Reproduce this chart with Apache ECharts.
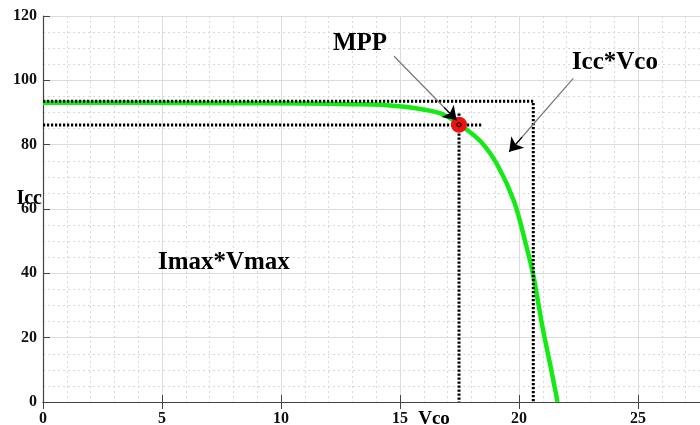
<!DOCTYPE html>
<html>
<head>
<meta charset="UTF-8">
<title>Icc-Vco</title>
<script src="https://cdn.jsdelivr.net/npm/echarts@6/dist/echarts.min.js"></script>
<style>
  html, body { margin: 0; padding: 0; background: #fff; }
  #main { width: 700px; height: 425px; }
</style>
</head>
<body>
<div id="main"></div>
<script type="text/javascript">
// courbe I-V du panneau
var vco = [0, 4, 8, 11, 13, 14.2, 15.6, 16.7, 17.5, 18.4, 19.1, 19.8, 20.3, 20.6, 21.0, 21.3, 21.62];
var icc = [93, 93, 92.9, 92.8, 92.6, 92.4, 91.4, 89.7, 86.3, 80.9, 73.6, 62.2, 48.7, 39.4, 22.8, 12, 0];

// point de puissance max
var mpp = [17.48, 86.2];

// rectangles en pointillés
var rectIcc = [[0, 93.5], [20.6, 93.5], [20.6, 0]];
var rectMaxH = [[0, 86.1], [18.43, 86.1]];
var rectMaxV = [[17.48, 89.7], [17.48, 0]];

// flèches d'annotation [depart, pointe]
var arrowMpp = [[14.75, 107.5], [17.38, 87.6]];
var arrowIcc = [[22.28, 100.6], [19.59, 77.8]];

// textes
var notes = [
  { name: 'MPP', value: [13.32, 111.5] },
  { name: 'Icc*Vco', value: [24.03, 105.4] },
  { name: 'Imax*Vmax', value: [7.6, 43.5] }
];

var font = '"Liberation Serif", "Times New Roman", serif';

function toXY(a, b) {
  return a.map(function (v, i) { return [v, b[i]]; });
}

// petit bout noir sous la pointe de flèche
function tip(arr) {
  var a = arr[0], b = arr[1];
  var k = 0.8;
  return [[a[0] + (b[0] - a[0]) * k, a[1] + (b[1] - a[1]) * k], b];
}

var dotted = {
  color: '#000',
  width: 3,
  type: [2.2, 1.8],
  opacity: 1
};

function dotSeries(pts) {
  return {
    type: 'line',
    data: pts,
    symbol: 'none',
    z: 4,
    lineStyle: dotted,
    silent: true
  };
}

var myChart = echarts.init(document.getElementById('main'));

var option = {
  animation: false,
  backgroundColor: '#fff',
  grid: {
    left: 43,
    right: -57,
    top: 16,
    bottom: 23,
    outerBoundsMode: 'none',
    containLabel: false
  },
  xAxis: [{
    type: 'value',
    min: 0,
    max: 30,
    interval: 5,
    name: 'Vco',
    nameLocation: 'middle',
    nameGap: 8,
    nameMoveOverlap: false,
    nameTextStyle: {
      fontFamily: font,
      fontWeight: 'bold',
      fontSize: 19,
      color: '#000',
      padding: [0, 0, 0, 68]
    },
    axisLine: { show: true, onZero: false, lineStyle: { color: '#444', width: 1.2 } },
    axisTick: { inside: true, length: 7, lineStyle: { color: '#444' } },
    axisLabel: {
      margin: 9,
      fontFamily: font,
      fontWeight: 'bold',
      fontSize: 16,
      color: '#111',
      showMaxLabel: false
    },
    splitLine: { show: true, lineStyle: { color: '#dcdcdc', width: 1 } },
    minorTick: { show: false, splitNumber: 5 },
    minorSplitLine: { show: true, lineStyle: { color: '#d8d8d8', type: [2, 3] } }
  }, {
    type: 'value',
    position: 'top',
    min: 0,
    max: 30,
    interval: 5,
    axisLine: { show: true, lineStyle: { color: '#444', width: 1.2 } },
    axisTick: { inside: true, length: 7, lineStyle: { color: '#444' } },
    axisLabel: { show: false },
    splitLine: { show: false }
  }],
  yAxis: {
    type: 'value',
    min: 0,
    max: 120,
    interval: 20,
    name: 'Icc',
    nameLocation: 'middle',
    nameRotate: 0,
    nameGap: 1,
    nameMoveOverlap: false,
    nameTextStyle: {
      fontFamily: font,
      fontWeight: 'bold',
      fontSize: 20,
      color: '#000',
      verticalAlign: 'bottom'
    },
    axisLine: { show: true, lineStyle: { color: '#444', width: 1.2 } },
    axisTick: { inside: true, length: 7, lineStyle: { color: '#444' } },
    axisLabel: {
      margin: 6,
      fontFamily: font,
      fontWeight: 'bold',
      fontSize: 16,
      color: '#111'
    },
    splitLine: { show: true, lineStyle: { color: '#dcdcdc', width: 1 } },
    minorTick: { show: false, splitNumber: 4 },
    minorSplitLine: { show: true, lineStyle: { color: '#d8d8d8', type: [2, 3] } }
  },
  series: [
    {
      name: 'I-V',
      type: 'line',
      data: toXY(vco, icc),
      smooth: 0.35,
      symbol: 'none',
      z: 3,
      lineStyle: { color: '#14ea14', width: 4.5 }
    },
    dotSeries(rectIcc),
    dotSeries(rectMaxH),
    dotSeries(rectMaxV),
    {
      type: 'scatter',
      data: [mpp],
      symbolSize: 16,
      z: 5,
      itemStyle: { color: '#ee1111', opacity: 1 }
    },
    {
      type: 'scatter',
      data: [mpp],
      symbol: 'circle',
      symbolSize: 4,
      z: 6,
      itemStyle: { color: 'rgba(0,0,0,0)', borderColor: '#000', borderWidth: 1.2, opacity: 1 }
    },
    {
      type: 'lines',
      coordinateSystem: 'cartesian2d',
      z: 7,
      data: [{ coords: arrowMpp }, { coords: arrowIcc }],
      lineStyle: { color: '#777', width: 1.2, opacity: 1 }
    },
    {
      type: 'lines',
      coordinateSystem: 'cartesian2d',
      z: 8,
      symbol: ['none', 'arrow'],
      symbolSize: 13,
      data: [{ coords: tip(arrowMpp) }, { coords: tip(arrowIcc) }],
      lineStyle: { color: '#000', width: 1.2, opacity: 1 }
    },
    {
      type: 'scatter',
      data: notes,
      symbolSize: 0,
      z: 9,
      itemStyle: { opacity: 1 },
      label: {
        show: true,
        position: 'inside',
        formatter: '{b}',
        fontFamily: font,
        fontWeight: 'bold',
        fontSize: 25,
        color: '#000',
        opacity: 1
      }
    }
  ]
};

myChart.setOption(option);
</script>
</body>
</html>
